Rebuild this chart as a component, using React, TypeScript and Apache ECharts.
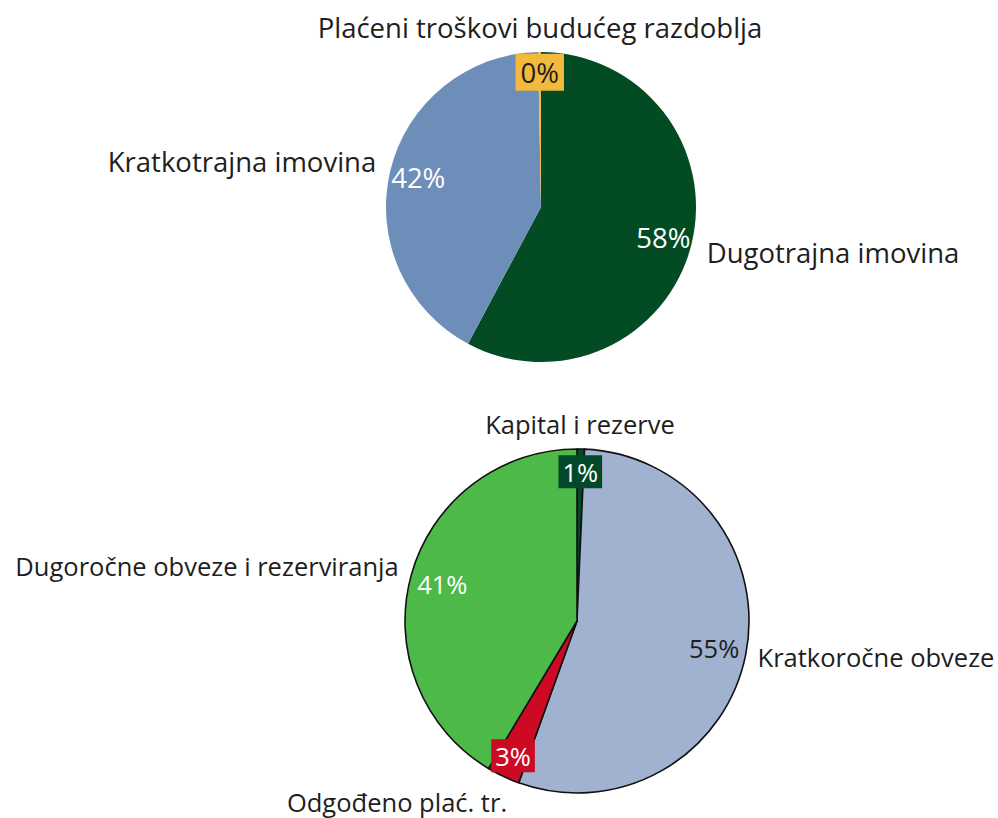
import React, { useEffect, useRef } from 'react';
import * as echarts from 'echarts';

// ---- Data ----
const TOP_NAMES = ['Dugotrajna imovina', 'Kratkotrajna imovina', 'Plaćeni troškovi budućeg razdoblja'];
const TOP_VALUES = [57.8, 41.9, 0.3];

const BOTTOM_NAMES = ['Kapital i rezerve', 'Kratkoročne obveze', 'Odgođeno plać. tr.', 'Dugoročne obveze i rezerviranja'];
const BOTTOM_VALUES = [0.7, 54.8, 3.1, 41.4];

// ---- Styles / layout ----
const FONT = 'Open Sans';
const TOP_FS = 27.5;
const BOTTOM_FS = 25.5;
const TEXT = '#1e1e1e';

const TOP_COLORS = ['#024B23', '#6E8EBA', '#F2B93D'];
const TOP_PCT_STYLE = [
  { color: '#ffffff' },
  { color: '#ffffff' },
  { color: TEXT, backgroundColor: '#F2B93D', padding: [5, 5, 4, 5] },
];
const TOP_SMALL = [false, false, true];
const TOP_NAME_POS = [[833, 252], [242, 161], [540, 27]];

const BOTTOM_COLORS = ['#02492A', '#A0B2CF', '#CD0A23', '#4CB948'];
const BOTTOM_PCT_STYLE = [
  { color: '#ffffff', backgroundColor: '#02492A', padding: [4, 4, 3, 4] },
  { color: TEXT },
  { color: '#ffffff', backgroundColor: '#CD0A23', padding: [4, 4, 3, 4] },
  { color: '#ffffff' },
];
const BOTTOM_SMALL = [true, false, true, false];
const BOTTOM_NAME_POS = [[580, 424], [876, 657], [397, 802], [207, 566]];

const TOP_CENTER = [541, 207];
const TOP_R = 155;
const BOTTOM_CENTER = [577, 621];
const BOTTOM_R = 172;

function pctFormatter(p: any) {
  return Math.round(p.percent) + '%';
}

function buildPie(
  names: string[],
  values: number[],
  colors: string[],
  pctStyles: any[],
  small: boolean[],
  namePos: number[][],
  center: number[],
  r: number,
  border: boolean,
  fs: number
) {
  const base = {
    type: 'pie',
    center,
    startAngle: 90,
    clockwise: true,
    silent: true,
    animation: false,
    avoidLabelOverlap: false,
    emphasis: { disabled: true },
    labelLine: { show: false },
  };
  const main = {
    ...base,
    radius: [0, r],
    itemStyle: border ? { borderColor: '#111', borderWidth: 1.6 } : { borderWidth: 0 },
    data: names.map((n, i) => ({ name: n, value: values[i], itemStyle: { color: colors[i] } })),
    label: {
      show: true,
      position: 'outside',
      formatter: '{b}',
      fontFamily: FONT,
      fontSize: fs,
      color: TEXT,
      overflow: 'none',
    },
    labelLayout: (params: any) => ({
      x: namePos[params.dataIndex][0],
      y: namePos[params.dataIndex][1],
      align: 'center',
      verticalAlign: 'middle',
    }),
  };
  const overlay = (isSmall: boolean, r0: number) => ({
    ...base,
    radius: [r0, r],
    itemStyle: { color: 'rgba(0,0,0,0)', borderWidth: 0 },
    data: names.map((n, i) => ({
      name: n,
      value: values[i],
      label: {
        show: small[i] === isSmall,
        ...pctStyles[i],
      },
    })),
    label: {
      show: true,
      position: 'inside',
      formatter: pctFormatter,
      fontFamily: FONT,
      fontSize: fs,
    },
  });
  return [main, overlay(false, r * 0.59), overlay(true, r * 0.7)];
}

export default function App() {
  const ref = useRef<HTMLDivElement>(null);
  useEffect(() => {
    const chart = echarts.init(ref.current!, null, { renderer: 'svg' });
    chart.setOption({
      animation: false,
      backgroundColor: '#ffffff',
      series: [
        ...buildPie(TOP_NAMES, TOP_VALUES, TOP_COLORS, TOP_PCT_STYLE, TOP_SMALL, TOP_NAME_POS, TOP_CENTER, TOP_R, false, TOP_FS),
        ...buildPie(BOTTOM_NAMES, BOTTOM_VALUES, BOTTOM_COLORS, BOTTOM_PCT_STYLE, BOTTOM_SMALL, BOTTOM_NAME_POS, BOTTOM_CENTER, BOTTOM_R, true, BOTTOM_FS),
      ],
    });
    return () => chart.dispose();
  }, []);
  return <div ref={ref} style={{ position: 'absolute', left: 0, top: 0, width: 998, height: 818 }} />;
}
